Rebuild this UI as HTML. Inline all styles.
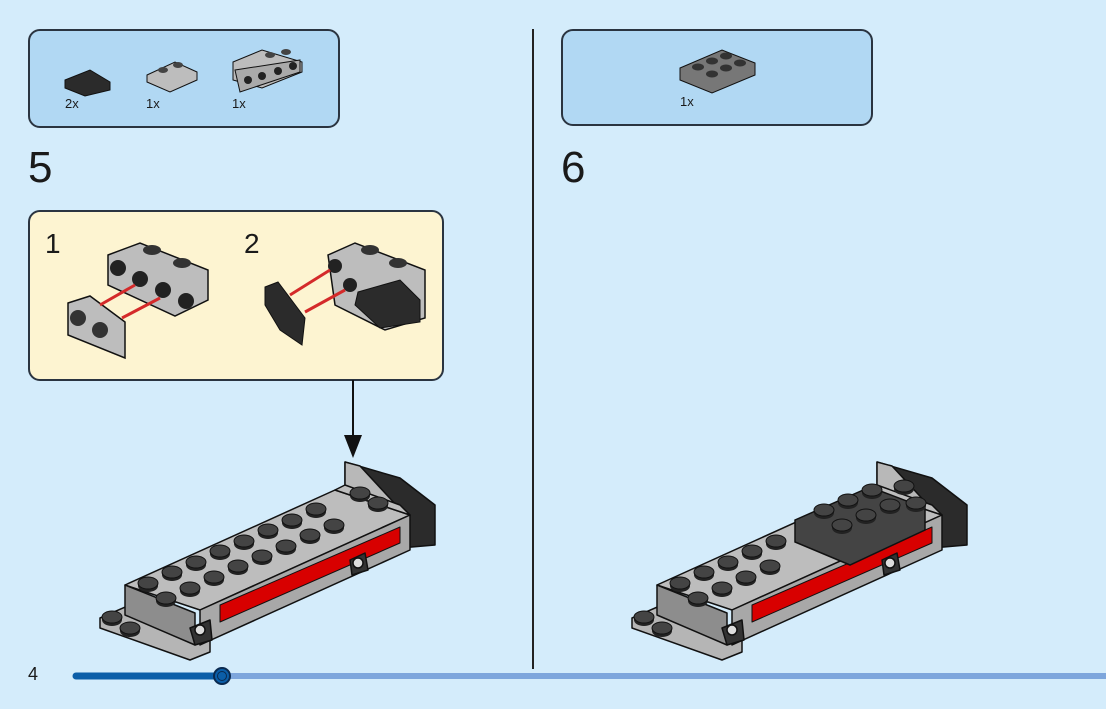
<!DOCTYPE html>
<html><head><meta charset="utf-8"><style>
html,body{margin:0;padding:0;}
body{width:1106px;height:709px;background:#d4ecfb;position:relative;overflow:hidden;font-family:"Liberation Sans",sans-serif;}
.box{position:absolute;border:2px solid #2a3440;border-radius:12px;box-sizing:border-box;}
.t{position:absolute;color:#1a1a1a;}
</style></head><body>
<div class="box" style="left:28px;top:29px;width:312px;height:99px;background:#b1d8f3"></div>
<div class="box" style="left:561px;top:29px;width:312px;height:97px;background:#b1d8f3"></div>
<div class="box" style="left:28px;top:210px;width:416px;height:171px;background:#fdf4d1"></div>
<div class="t" style="left:65px;top:96px;font-size:13px">2x</div>
<div class="t" style="left:146px;top:96px;font-size:13px">1x</div>
<div class="t" style="left:232px;top:96px;font-size:13px">1x</div>
<div class="t" style="left:680px;top:94px;font-size:13px">1x</div>
<div class="t" style="left:28px;top:143px;font-size:44px">5</div>
<div class="t" style="left:561px;top:143px;font-size:44px">6</div>
<div class="t" style="left:45px;top:228px;font-size:28px">1</div>
<div class="t" style="left:244px;top:228px;font-size:28px">2</div>
<div class="t" style="left:28px;top:664px;font-size:18px">4</div>
<div style="position:absolute;left:532px;top:29px;width:2px;height:640px;background:#222"></div>
<svg width="1106" height="709" style="position:absolute;left:0;top:0">
<defs>
<g id="stud"><ellipse cx="0" cy="3" rx="10" ry="6" fill="#222"/><ellipse cx="0" cy="0" rx="10" ry="6" fill="#444" stroke="#111"/></g>
<g id="model" stroke="#111" stroke-width="1.5" stroke-linejoin="round">
<polygon points="345,462 400,478 435,505 435,545 400,548 345,520" fill="#2b2b2b"/>
<polygon points="345,462 360,466 410,520 400,548 345,520" fill="#b8b8b8"/>
<polygon points="100,618 130,605 210,640 210,652 190,660 100,628" fill="#b5b5b5"/>
<polygon points="125,585 335,490 410,515 200,610" fill="#bdbdbd"/>
<polygon points="200,610 410,515 410,550 200,645" fill="#a8a8a8"/>
<polygon points="220,605 400,527 400,543 220,622" fill="#d80000" stroke="#111" stroke-width="1"/>
<polygon points="125,585 195,613 195,645 125,615" fill="#8d8d8d"/>
<polygon points="335,490 345,485 400,505 410,515" fill="#bdbdbd"/>
<polygon points="190,628 210,620 212,640 195,645" fill="#333"/>
<polygon points="350,560 365,553 368,570 352,575" fill="#333"/>
<circle cx="200" cy="630" r="5" fill="#ddd"/><circle cx="358" cy="563" r="5" fill="#ddd"/>
</g>
</defs>
<polygon points="65,80 90,70 110,82 110,90 85,96 65,88" fill="#2b2b2b" stroke="#111"/>
<polygon points="147,75 175,62 197,72 197,80 170,92 147,82" fill="#bdbdbd" stroke="#111"/>
<ellipse cx="163" cy="70" rx="5" ry="3" fill="#444"/><ellipse cx="178" cy="65" rx="5" ry="3" fill="#444"/>
<polygon points="233,62 262,50 302,62 302,72 262,88 233,80" fill="#bdbdbd" stroke="#111"/>
<polygon points="235,70 300,60 300,72 240,92" fill="#aaa" stroke="#111"/>
<circle cx="248" cy="80" r="4" fill="#222"/><circle cx="262" cy="76" r="4" fill="#222"/><circle cx="278" cy="71" r="4" fill="#222"/><circle cx="293" cy="66" r="4" fill="#222"/>
<ellipse cx="270" cy="55" rx="5" ry="3" fill="#444"/><ellipse cx="286" cy="52" rx="5" ry="3" fill="#444"/>
<polygon points="680,68 722,50 755,63 755,75 712,93 680,80" fill="#777" stroke="#111"/>
<ellipse cx="698" cy="67" rx="6" ry="3.5" fill="#333"/><ellipse cx="712" cy="61" rx="6" ry="3.5" fill="#333"/><ellipse cx="726" cy="56" rx="6" ry="3.5" fill="#333"/>
<ellipse cx="712" cy="74" rx="6" ry="3.5" fill="#333"/><ellipse cx="726" cy="68" rx="6" ry="3.5" fill="#333"/><ellipse cx="740" cy="63" rx="6" ry="3.5" fill="#333"/>
<polygon points="108,255 140,243 208,270 208,300 175,316 108,285" fill="#bdbdbd" stroke="#111" stroke-width="1.5"/>
<ellipse cx="152" cy="250" rx="9" ry="5" fill="#333"/><ellipse cx="182" cy="263" rx="9" ry="5" fill="#333"/>
<circle cx="118" cy="268" r="8" fill="#222"/><circle cx="140" cy="279" r="8" fill="#222"/><circle cx="163" cy="290" r="8" fill="#222"/><circle cx="186" cy="301" r="8" fill="#222"/>
<polygon points="68,303 90,296 125,322 125,358 68,335" fill="#bdbdbd" stroke="#111" stroke-width="1.5"/>
<circle cx="78" cy="318" r="8" fill="#333"/><circle cx="100" cy="330" r="8" fill="#333"/>
<line x1="100" y1="305" x2="135" y2="285" stroke="#d42a2a" stroke-width="3"/><line x1="122" y1="318" x2="160" y2="298" stroke="#d42a2a" stroke-width="3"/>
<polygon points="328,255 355,243 425,270 425,318 385,330 335,305" fill="#bdbdbd" stroke="#111" stroke-width="1.5"/>
<ellipse cx="370" cy="250" rx="9" ry="5" fill="#333"/><ellipse cx="398" cy="263" rx="9" ry="5" fill="#333"/>
<circle cx="335" cy="266" r="7" fill="#222"/><circle cx="350" cy="285" r="7" fill="#222"/>
<polygon points="358,292 400,280 420,300 420,322 380,328 355,305" fill="#2b2b2b" stroke="#111"/>
<polygon points="265,287 278,282 305,318 302,345 280,330 265,305" fill="#2b2b2b" stroke="#111"/>
<line x1="290" y1="295" x2="330" y2="270" stroke="#d42a2a" stroke-width="3"/><line x1="305" y1="312" x2="345" y2="290" stroke="#d42a2a" stroke-width="3"/>
<line x1="353" y1="380" x2="353" y2="445" stroke="#111" stroke-width="2"/>
<polygon points="344,435 362,435 353,458" fill="#111"/>
<use href="#model"/>
<g>
<use href="#stud" x="148" y="583"/><use href="#stud" x="172" y="572"/><use href="#stud" x="196" y="562"/><use href="#stud" x="220" y="551"/><use href="#stud" x="244" y="541"/><use href="#stud" x="268" y="530"/><use href="#stud" x="292" y="520"/><use href="#stud" x="316" y="509"/><use href="#stud" x="360" y="493"/>
<use href="#stud" x="166" y="598"/><use href="#stud" x="190" y="588"/><use href="#stud" x="214" y="577"/><use href="#stud" x="238" y="566"/><use href="#stud" x="262" y="556"/><use href="#stud" x="286" y="546"/><use href="#stud" x="310" y="535"/><use href="#stud" x="334" y="525"/><use href="#stud" x="378" y="503"/>
<use href="#stud" x="112" y="617"/><use href="#stud" x="130" y="628"/>
</g>
<use href="#model" x="532"/>
<polygon points="795,520 870,487 925,508 925,530 850,565 795,542" fill="#444" stroke="#111" stroke-width="1.5"/>
<g transform="translate(532,0)">
<use href="#stud" x="148" y="583"/><use href="#stud" x="172" y="572"/><use href="#stud" x="196" y="562"/><use href="#stud" x="220" y="551"/><use href="#stud" x="244" y="541"/><use href="#stud" x="292" y="510"/><use href="#stud" x="316" y="500"/><use href="#stud" x="340" y="490"/><use href="#stud" x="372" y="486"/>
<use href="#stud" x="166" y="598"/><use href="#stud" x="190" y="588"/><use href="#stud" x="214" y="577"/><use href="#stud" x="238" y="566"/><use href="#stud" x="310" y="525"/><use href="#stud" x="334" y="515"/><use href="#stud" x="358" y="505"/><use href="#stud" x="384" y="503"/>
<use href="#stud" x="112" y="617"/><use href="#stud" x="130" y="628"/>
</g>
<line x1="222" y1="676" x2="1106" y2="676" stroke="#7ea6dc" stroke-width="6"/>
<line x1="76" y1="676" x2="222" y2="676" stroke="#0b5ea8" stroke-width="7" stroke-linecap="round"/>
<circle cx="222" cy="676" r="8" fill="#0b5ea8" stroke="#0a2a50" stroke-width="2"/>
<circle cx="222" cy="676" r="4.5" fill="none" stroke="#0a2a50" stroke-width="1"/>
</svg>
</body></html>
